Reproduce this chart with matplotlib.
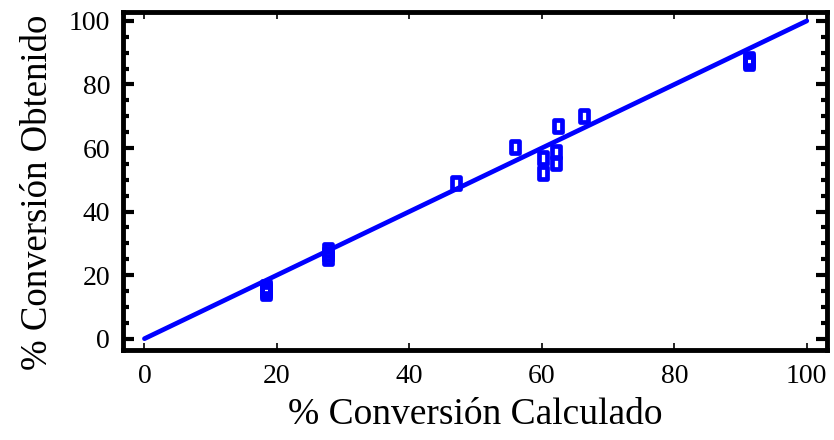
import matplotlib
matplotlib.use('Agg')

import matplotlib.pyplot as plt
from matplotlib.markers import MarkerStyle
from matplotlib.path import Path
from matplotlib.ticker import MultipleLocator

# data
calc = [18.4, 18.4, 18.4, 18.4, 27.7, 27.7, 27.7, 47.0, 56.0, 60.2, 60.2,
        62.1, 62.1, 62.5, 66.3, 91.2, 91.2, 91.2]
obt = [14.3, 15.0, 15.6, 16.2, 25.5, 26.7, 27.9, 49.0, 60.4, 56.7, 52.2,
       58.8, 55.3, 67.0, 70.2, 86.6, 87.4, 88.1]
fit_x = [0, 100]
fit_y = [0, 100]
ticks = [0, 20, 40, 60, 80, 100]

plt.rcParams['font.family'] = ['Liberation Serif', 'DejaVu Serif']
BLUE = '#0000ff'

fig = plt.figure(figsize=(8.34, 4.40), dpi=100)
ax = fig.add_axes([0.147, 0.205, 0.845, 0.767])

ax.plot(fit_x, fit_y, color=BLUE, lw=3.4, solid_capstyle='round', zorder=2)

# tall rounded rectangle marker, hollow
box = Path([(-0.6, -1), (0.6, -1), (0.6, 1), (-0.6, 1), (-0.6, -1)],
           closed=True)
marker = MarkerStyle(box, joinstyle='round')
ax.plot(calc, obt, ls='none', marker=marker, ms=9.0, mfc='none', mec=BLUE,
        mew=3.4, zorder=3)

ax.set_xlim(-3.3, 103.1)
ax.set_ylim(-3.5, 102.7)
ax.set_xticks(ticks)
ax.set_yticks(ticks)
ax.yaxis.set_minor_locator(MultipleLocator(5))

for sp in ax.spines.values():
    sp.set_linewidth(3.5)

ax.tick_params(axis='y', which='major', direction='in', left=True, right=True,
               length=8, width=3.0, labelsize=20, pad=9)
ax.tick_params(axis='y', which='minor', direction='in', left=True, right=True,
               length=4.5, width=3.0)
ax.tick_params(axis='x', which='major', direction='in', bottom=True, top=True,
               length=5, width=1.2, labelsize=20, pad=10)

ax.set_xlabel('% Conversión Calculado', fontsize=27, labelpad=6)
ax.set_ylabel('% Conversión Obtenido', fontsize=26.5, labelpad=10)
ax.yaxis.label.set_y(0.467)

fig.savefig('out.png', dpi=100, facecolor='white')
plt.close(fig)
